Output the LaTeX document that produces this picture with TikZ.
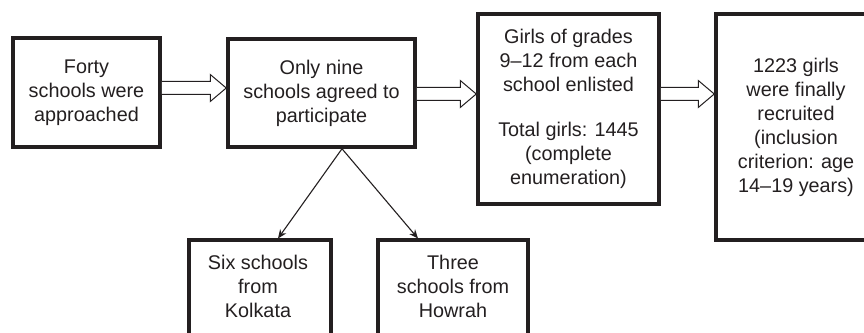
\documentclass[tikz,border=0pt]{standalone}
\usepackage{fontspec}
\setmainfont{Liberation Sans}
\usetikzlibrary{calc,arrows.meta}
\definecolor{ink}{HTML}{231F20}
\begin{document}
\begin{tikzpicture}[x=1pt,y=1pt,
  box/.style={draw=ink, line width=3.5pt, inner sep=0pt, text=ink, align=center,
    font=\fontsize{19.8}{24}\selectfont},
  txt/.style={text=ink, align=center, inner sep=0pt, font=\fontsize{19.8}{24}\selectfont},
  link/.style={draw=ink, line width=1.1pt, -{Stealth[length=9pt,width=7.5pt]}},
  harrow/.style={draw=ink, line width=1pt, fill=white, line join=miter}]
\useasboundingbox (0,0) rectangle (864,332);
\clip (0,0) rectangle (864,332);
\node[box, minimum width=147pt, minimum height=109pt] (b1) at (86.5,239.5)
  {Forty\\schools were\\approached};
\node[box, minimum width=187pt, minimum height=108pt] (b2) at (321.5,239)
  {Only nine\\schools agreed to\\participate};
\node[box, minimum width=181pt, minimum height=190pt] (b3) at (568.5,223)
  {Girls of grades\\9--12 from each\\school enlisted\\[21pt]Total girls: 1445\\(complete\\enumeration)};
\node[box, minimum width=160pt, minimum height=226pt] (b4) at (796,205)
  {1223 girls\\were finally\\recruited\\(inclusion\\criterion: age\\14--19 years)};
\node[box, minimum width=142pt, minimum height=130pt, anchor=north] (b5) at (260,93.5) {};
\node[box, minimum width=150pt, minimum height=130pt, anchor=north] (b6) at (453,93.5) {};
\node[txt] (t5) at (258,46) {Six schools\\from\\Kolkata};
\node[txt] (t6) at (453,46) {Three\\schools from\\Howrah};
% hollow arrows
\coordinate (s1) at (b1.east |- 0,244);
\coordinate (e1) at (b2.west |- 0,244);
\coordinate (s2) at (b2.east |- 0,238);
\coordinate (e2) at (b3.west |- 0,238);
\coordinate (s3) at (b3.east |- 0,238);
\coordinate (e3) at (b4.west |- 0,238);
\foreach \s/\e in {s1/e1,s2/e2,s3/e3}{
  \draw[harrow] ($(\s)+(0,6.5)$) -- ($(\e)+(-16,6.5)$) -- ($(\e)+(-16,13.5)$) -- (\e)
    -- ($(\e)+(-16,-13.5)$) -- ($(\e)+(-16,-6.5)$) -- ($(\s)+(0,-6.5)$);
}
% split arrows
\coordinate (apex) at ($(b2.south)+(20.5,0)$);
\draw[link] (apex) -- ($(b5.north)+(18,0)$);
\draw[link] (apex) -- ($(b6.north)+(-35,0)$);
\end{tikzpicture}
\end{document}
